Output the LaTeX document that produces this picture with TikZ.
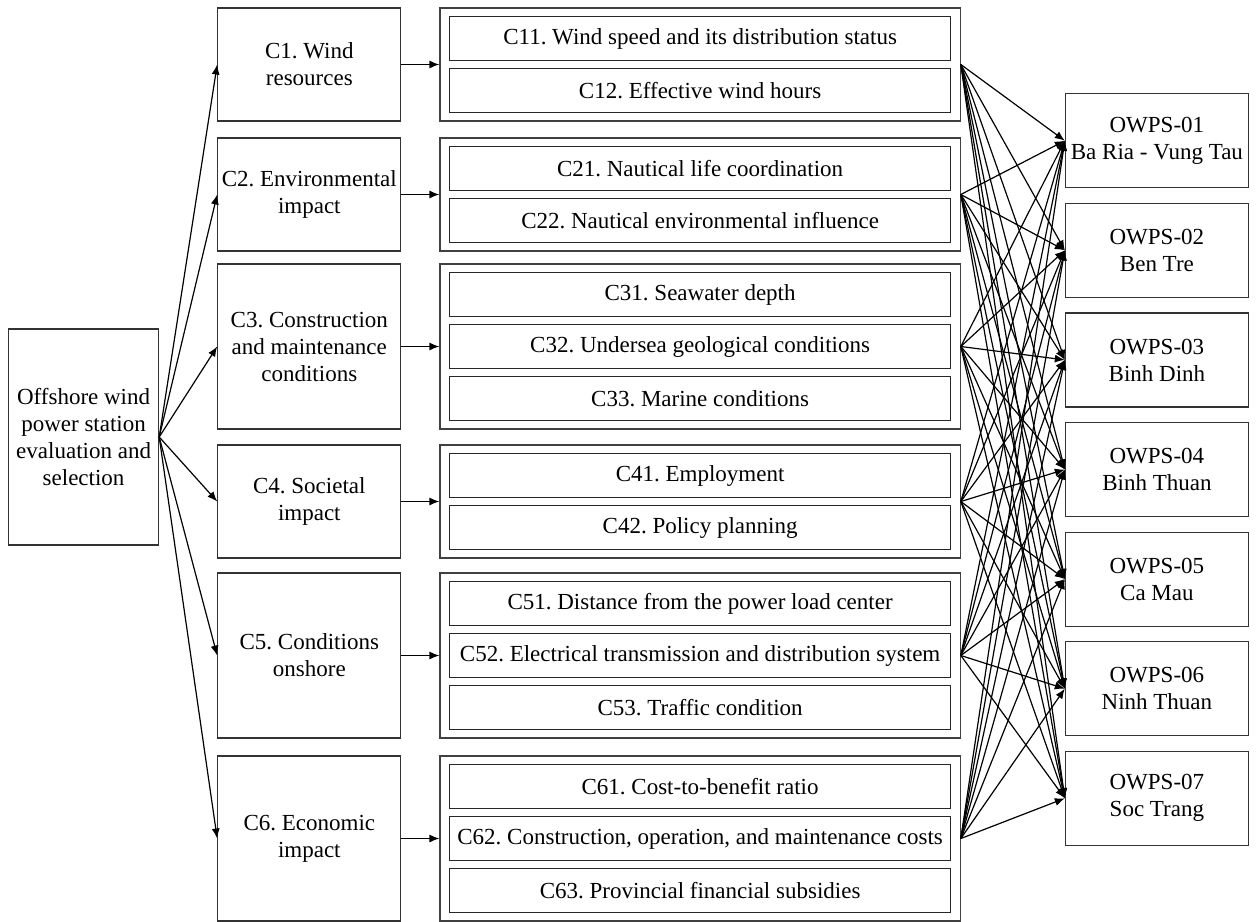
\documentclass[tikz,border=0pt]{standalone}
\usepackage{fontspec}
\setmainfont{Liberation Serif}
\usetikzlibrary{calc,arrows.meta,positioning,fit}

\begin{document}
\begin{tikzpicture}[
        sub/.style={
            rectangle, draw=black!85, line width=0.6pt,
            minimum width=250.5pt, minimum height=21.9pt,
            inner sep=1pt
        },
        grp/.style={
            rectangle, draw=black!75, line width=0.6pt,
            inner xsep=4.5pt, inner ysep=4pt
        },
        crit/.style={
            rectangle, draw=black!80, line width=0.6pt,
            minimum width=91.5pt, align=center, inner sep=1pt
        },
        ctwo/.style={crit, minimum height=56.5pt},
        cthree/.style={crit, minimum height=82.5pt},
        alt/.style={
            rectangle, draw=black!80, line width=0.6pt,
            minimum width=91.5pt, minimum height=47pt,
            align=center, inner sep=1pt
        },
        font=\fontsize{11.5}{13.5}\selectfont\frenchspacing, -{Latex[length=5pt,width=4pt]}, line width=0.6pt
      ]

  \useasboundingbox (0,0) rectangle (628pt,-460.5pt);

  \node   (c11) [sub, anchor=north west] at (224.5pt,-8pt) {C11. Wind speed and its distribution status};
  \node   (c12) [sub, below=3.5pt of c11] {C12. Effective wind hours};

  \node   (c21) [sub, below=16.5pt of c12] {C21. Nautical life coordination};
  \node   (c22) [sub, below=3.5pt of c21] {C22. Nautical environmental influence};

  \node   (c31) [sub, below=14.5pt of c22] {C31. Seawater depth};
  \node   (c32) [sub, below=3.5pt of c31] {C32. Undersea geological conditions};
  \node   (c33) [sub, below=3.5pt of c32] {C33. Marine conditions};

  \node   (c41) [sub, below=16pt of c33] {C41. Employment};
  \node   (c42) [sub, below=3.5pt of c41] {C42. Policy planning};

  \node   (c51) [sub, below=15.5pt of c42] {C51. Distance from the power load center};
  \node   (c52) [sub, below=3.5pt of c51] {C52. Electrical transmission and distribution system};
  \node   (c53) [sub, below=3.5pt of c52] {C53. Traffic condition};

  \node   (c61) [sub, below=17pt of c53] {C61. Cost-to-benefit ratio};
  \node   (c62) [sub, below=3.5pt of c61] {C62. Construction, operation, and maintenance costs};
  \node   (c63) [sub, below=3.5pt of c62] {C63. Provincial financial subsidies};


  \node   (g1) [grp, fit=(c11)(c12)] {};
  \node   (g2) [grp, fit=(c21)(c22)] {};
  \node   (g3) [grp, fit=(c31)(c33)] {};
  \node   (g4) [grp, fit=(c41)(c42)] {};
  \node   (g5) [grp, fit=(c51)(c53)] {};
  \node   (g6) [grp, fit=(c61)(c63)] {};


  \node   (c1) [ctwo, left=19pt of g1] {C1. Wind\\resources};
  \node   (c2) [ctwo, left=19pt of g2] {C2. Environmental\\impact};
  \node   (c3) [cthree, left=19pt of g3] {C3. Construction\\and maintenance\\conditions};
  \node   (c4) [ctwo, left=19pt of g4] {C4. Societal\\impact};
  \node   (c5) [cthree, left=19pt of g5] {C5. Conditions\\onshore};
  \node   (c6) [cthree, left=19pt of g6] {C6. Economic\\impact};

  \coordinate (mid) at ($(c3.south west)!0.5!(c4.north west)$);
  \node   (root) [crit, minimum width=75pt, minimum height=108pt, left=29pt of mid] {Offshore wind\\power station\\evaluation and\\selection};


  \coordinate (omid) at ($(g1.north east)!0.5!(g6.south east)+(0,-2.5pt)$);
  \node   (o4) [alt, right=52pt of omid] {OWPS-04\\Binh Thuan};
  \node   (o3) [alt, above=7.2pt of o4] {OWPS-03\\Binh Dinh};
  \node   (o2) [alt, above=7.2pt of o3] {OWPS-02\\Ben Tre};
  \node   (o1) [alt, above=7.2pt of o2] {OWPS-01\\Ba Ria - Vung Tau};
  \node   (o5) [alt, below=7.2pt of o4] {OWPS-05\\Ca Mau};
  \node   (o6) [alt, below=7.2pt of o5] {OWPS-06\\Ninh Thuan};
  \node   (o7) [alt, below=7.2pt of o6] {OWPS-07\\Soc Trang};


  \foreach \i in {1,...,6} {
    \draw (root.east) -- (c\i.west);
    \draw (c\i.east) -- (g\i.west);
    \foreach \j in {1,...,7}
      \draw (g\i.east) -- (o\j.west);
  }

\end{tikzpicture}
\end{document}
